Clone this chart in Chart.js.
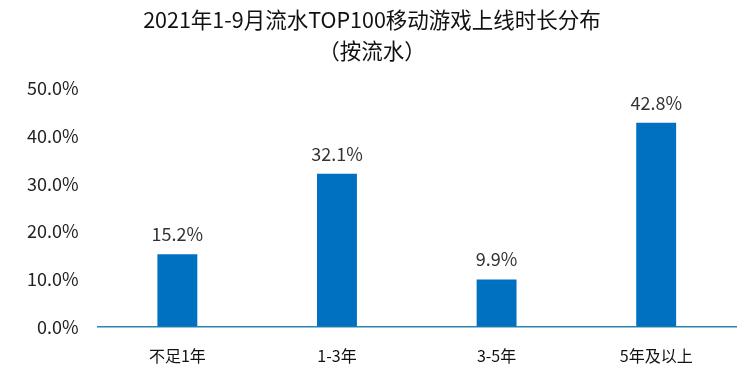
<!DOCTYPE html>
<html>
<head>
<meta charset="utf-8">
<script src="https://cdn.jsdelivr.net/npm/chart.js@4"></script>
<style>
  html, body { margin: 0; padding: 0; background: #fff; }
  #wrap { width: 750px; height: 375px; }
</style>
</head>
<body>
<div id="wrap"><canvas id="chart" width="750" height="375"></canvas></div>
<script>
// data
var categories = ['不足1年', '1-3年', '3-5年', '5年及以上'];
var shares = [15.2, 32.1, 9.9, 42.8];
var titleLines = ['2021年1-9月流水TOP100移动游戏上线时长分布', '（按流水）'];

var FONT = '"Noto Sans CJK SC", "Noto Sans", sans-serif';

// value labels above the bars
var barLabels = {
    id: 'barLabels',
    afterDatasetsDraw: function(chart) {
        var ctx = chart.ctx;
        var meta = chart.getDatasetMeta(0);
        ctx.save();
        ctx.font = '18px ' + FONT;
        ctx.fillStyle = '#333';
        ctx.textAlign = 'center';
        ctx.textBaseline = 'bottom';
        meta.data.forEach(function(bar, i) {
            ctx.fillText(shares[i].toFixed(1) + '%', bar.x, bar.y - 11);
        });
        ctx.restore();
    }
};

var ctx = document.getElementById('chart');
var chart = new Chart(ctx, {
    type: 'bar',
    data: {
        labels: categories,
        datasets: [{
            data: shares,
            backgroundColor: '#0070C0',
            categoryPercentage: 1,
            barPercentage: 0.25
        }]
    },
    options: {
        responsive: false,
        animation: false,
        layout: { padding: { left: 8, right: 14, top: 0, bottom: -11 } },
        scales: {
            x: {
                grid: { display: false, drawTicks: false },
                border: { display: true, color: '#2E86AB', width: 1.5 },
                ticks: { color: '#111', font: { size: 16, family: FONT }, padding: 20 }
            },
            y: {
                min: 0,
                max: 50,
                grid: { display: false, drawTicks: false },
                border: { display: false },
                ticks: {
                    stepSize: 10,
                    color: '#222',
                    padding: 19,
                    font: { size: 18, family: FONT },
                    callback: function(v) { return v.toFixed(1) + '%'; }
                }
            }
        },
        plugins: {
            legend: { display: false },
            tooltip: { enabled: false },
            title: {
                display: true,
                text: titleLines,
                color: '#111',
                font: { size: 21.5, family: FONT, weight: 'normal', lineHeight: 1.45 },
                padding: { top: 4, bottom: 22 }
            }
        }
    },
    plugins: [barLabels]
});
</script>
</body>
</html>
